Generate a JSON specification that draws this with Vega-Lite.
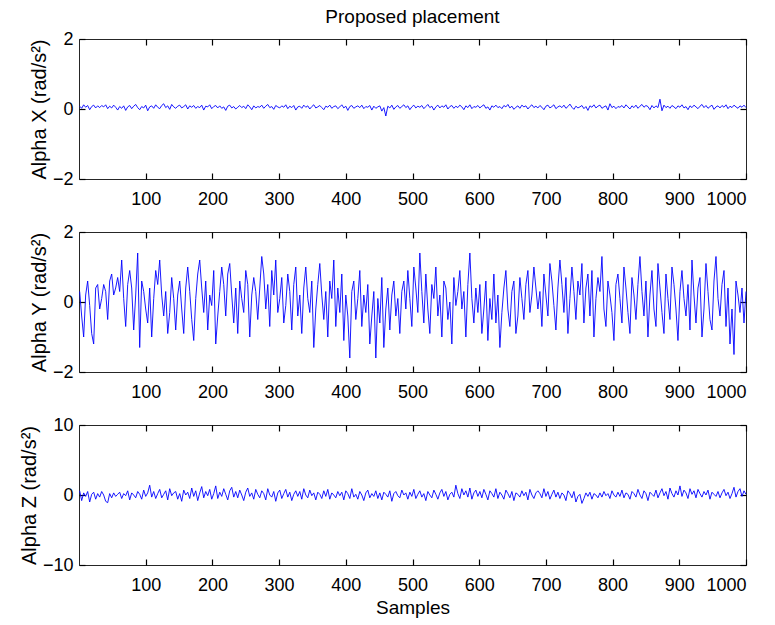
{
"$schema": "https://vega.github.io/schema/vega-lite/v6.json",
"padding": {"left": 18, "top": 7, "right": 5, "bottom": 5},
"spacing": 53,
"bounds": "flush",
"config": {
  "font": "Liberation Sans",
  "view": {"stroke": "#262626", "strokeWidth": 1},
  "axis": {"grid": false, "domain": false, "ticks": true, "offset": -6, "tickColor": "#000000", "tickOpacity": 1, "labelColor": "#000", "titleColor": "#000", "labelFontSize": 18, "titleFontSize": 19, "titleFontWeight": "normal", "tickSize": 6, "tickWidth": 1.2, "labelPadding": 11, "titlePadding": 4, "format": "d"},
  "axisY": {"labelPadding": 6, "titlePadding": 3, "titleFontSize": 20},
  "title": {"fontSize": 19, "fontWeight": "normal", "color": "#000", "offset": 3}
},
"datasets": {"d": [
{"x":1,"a":0.08,"b":0.3,"c":0.6},
{"x":4,"a":0.02,"b":-0.4,"c":-0.8},
{"x":7,"a":0.12,"b":-1.0,"c":0.3},
{"x":10,"a":0.05,"b":0.2,"c":-0.2},
{"x":13,"a":0.10,"b":0.6,"c":0.5},
{"x":16,"a":-0.02,"b":-0.1,"c":-1.0},
{"x":19,"a":0.07,"b":-0.9,"c":0.1},
{"x":22,"a":0.11,"b":-1.2,"c":0.4},
{"x":25,"a":0.03,"b":0.4,"c":-0.6},
{"x":28,"a":0.09,"b":0.5,"c":0.2},
{"x":31,"a":0.04,"b":-0.2,"c":-0.3},
{"x":34,"a":0.10,"b":0.1,"c":0.5},
{"x":37,"a":0.06,"b":0.5,"c":0.0},
{"x":40,"a":0.12,"b":0.3,"c":-0.9},
{"x":43,"a":0.01,"b":-0.5,"c":-1.1},
{"x":46,"a":0.08,"b":0.6,"c":0.2},
{"x":49,"a":0.03,"b":0.8,"c":-0.4},
{"x":52,"a":0.11,"b":0.2,"c":0.3},
{"x":55,"a":0.05,"b":0.4,"c":-0.2},
{"x":58,"a":-0.03,"b":0.7,"c":0.1},
{"x":61,"a":0.07,"b":0.3,"c":0.4},
{"x":64,"a":0.02,"b":1.2,"c":-0.5},
{"x":67,"a":0.09,"b":0.1,"c":0.2},
{"x":70,"a":-0.04,"b":-0.7,"c":-0.1},
{"x":73,"a":0.06,"b":0.5,"c":0.6},
{"x":76,"a":0.10,"b":0.9,"c":-0.7},
{"x":79,"a":0.01,"b":0.4,"c":0.3},
{"x":82,"a":0.08,"b":-0.8,"c":0.0},
{"x":85,"a":0.13,"b":0.2,"c":-0.4},
{"x":88,"a":0.04,"b":1.4,"c":0.5},
{"x":91,"a":-0.02,"b":-1.3,"c":0.1},
{"x":94,"a":0.07,"b":0.6,"c":-0.6},
{"x":97,"a":0.03,"b":0.3,"c":0.7},
{"x":100,"a":0.11,"b":-0.2,"c":-0.2},
{"x":103,"a":-0.05,"b":-0.6,"c":0.3},
{"x":106,"a":0.06,"b":0.4,"c":1.4},
{"x":109,"a":0.09,"b":-1.0,"c":-0.3},
{"x":112,"a":0.02,"b":0.1,"c":0.5},
{"x":115,"a":0.12,"b":0.9,"c":-0.5},
{"x":118,"a":0.05,"b":0.5,"c":0.2},
{"x":121,"a":0.01,"b":1.2,"c":0.8},
{"x":124,"a":0.10,"b":0.2,"c":-0.4},
{"x":127,"a":0.15,"b":-0.4,"c":0.1},
{"x":130,"a":0.04,"b":0.3,"c":0.6},
{"x":133,"a":0.09,"b":-0.9,"c":-0.7},
{"x":136,"a":-0.01,"b":-0.3,"c":0.9},
{"x":139,"a":0.13,"b":0.7,"c":-0.1},
{"x":142,"a":0.06,"b":0.1,"c":0.3},
{"x":145,"a":0.02,"b":-0.8,"c":0.5},
{"x":148,"a":0.08,"b":0.2,"c":-0.6},
{"x":151,"a":0.11,"b":0.6,"c":0.2},
{"x":154,"a":0.03,"b":-0.2,"c":-0.9},
{"x":157,"a":0.07,"b":-0.9,"c":0.7},
{"x":160,"a":0.12,"b":0.4,"c":0.0},
{"x":163,"a":0.00,"b":1.0,"c":0.4},
{"x":166,"a":0.09,"b":0.3,"c":-0.5},
{"x":169,"a":0.05,"b":-0.5,"c":1.0},
{"x":172,"a":0.10,"b":-1.1,"c":-0.2},
{"x":175,"a":0.02,"b":0.1,"c":0.6},
{"x":178,"a":0.07,"b":0.8,"c":-0.8},
{"x":181,"a":0.04,"b":1.2,"c":0.3},
{"x":184,"a":0.11,"b":0.4,"c":1.2},
{"x":187,"a":-0.03,"b":-0.3,"c":-0.4},
{"x":190,"a":0.08,"b":0.6,"c":0.5},
{"x":193,"a":0.06,"b":-0.8,"c":-0.1},
{"x":196,"a":0.12,"b":0.2,"c":0.8},
{"x":199,"a":0.01,"b":-0.1,"c":-0.6},
{"x":202,"a":0.07,"b":0.9,"c":0.2},
{"x":205,"a":0.10,"b":-1.2,"c":1.3},
{"x":208,"a":0.03,"b":-0.4,"c":-0.5},
{"x":211,"a":0.09,"b":0.3,"c":0.4},
{"x":214,"a":0.02,"b":1.0,"c":-0.2},
{"x":217,"a":0.06,"b":0.5,"c":0.9},
{"x":220,"a":-0.04,"b":-0.4,"c":0.1},
{"x":223,"a":0.08,"b":0.8,"c":-0.7},
{"x":226,"a":0.11,"b":1.1,"c":0.6},
{"x":229,"a":0.03,"b":0.2,"c":1.1},
{"x":232,"a":0.07,"b":-0.6,"c":-0.3},
{"x":235,"a":0.00,"b":0.4,"c":0.5},
{"x":238,"a":0.05,"b":-0.9,"c":-0.4},
{"x":241,"a":0.10,"b":0.6,"c":0.7},
{"x":244,"a":0.04,"b":0.1,"c":0.0},
{"x":247,"a":0.08,"b":-0.3,"c":-0.8},
{"x":250,"a":0.01,"b":0.9,"c":0.4},
{"x":253,"a":0.12,"b":0.5,"c":1.0},
{"x":256,"a":0.06,"b":-1.0,"c":-0.2},
{"x":259,"a":-0.02,"b":0.2,"c":0.3},
{"x":262,"a":0.09,"b":0.7,"c":-0.6},
{"x":265,"a":0.03,"b":0.3,"c":0.8},
{"x":268,"a":0.07,"b":-0.5,"c":0.1},
{"x":271,"a":0.05,"b":0.4,"c":-0.4},
{"x":274,"a":0.11,"b":1.3,"c":0.6},
{"x":277,"a":0.02,"b":0.8,"c":0.2},
{"x":280,"a":0.08,"b":-0.2,"c":-0.7},
{"x":283,"a":0.13,"b":0.5,"c":0.9},
{"x":286,"a":0.04,"b":-0.7,"c":0.0},
{"x":289,"a":0.07,"b":0.9,"c":-0.3},
{"x":292,"a":-0.01,"b":0.2,"c":0.5},
{"x":295,"a":0.10,"b":1.2,"c":-0.9},
{"x":298,"a":0.06,"b":-0.3,"c":0.3},
{"x":301,"a":0.03,"b":0.1,"c":0.7},
{"x":304,"a":0.09,"b":0.7,"c":-0.5},
{"x":307,"a":0.05,"b":-0.6,"c":0.2},
{"x":310,"a":0.12,"b":-0.1,"c":0.8},
{"x":313,"a":0.01,"b":0.8,"c":-0.3},
{"x":316,"a":0.08,"b":0.3,"c":0.4},
{"x":319,"a":0.04,"b":-0.8,"c":-0.8},
{"x":322,"a":0.10,"b":0.5,"c":0.1},
{"x":325,"a":-0.03,"b":1.0,"c":0.6},
{"x":328,"a":0.06,"b":-0.4,"c":-0.2},
{"x":331,"a":0.08,"b":0.2,"c":0.5},
{"x":334,"a":0.02,"b":-0.9,"c":-0.6},
{"x":337,"a":0.11,"b":0.4,"c":0.9},
{"x":340,"a":0.05,"b":1.0,"c":0.0},
{"x":343,"a":0.09,"b":0.1,"c":-0.4},
{"x":346,"a":0.00,"b":-0.3,"c":0.7},
{"x":349,"a":0.07,"b":0.6,"c":-0.1},
{"x":352,"a":0.12,"b":-1.3,"c":0.3},
{"x":355,"a":0.03,"b":-0.2,"c":-0.7},
{"x":358,"a":0.06,"b":0.5,"c":0.4},
{"x":361,"a":0.10,"b":1.1,"c":0.1},
{"x":364,"a":0.04,"b":0.2,"c":-0.5},
{"x":367,"a":-0.02,"b":-0.5,"c":0.6},
{"x":370,"a":0.08,"b":0.3,"c":-0.2},
{"x":373,"a":0.05,"b":-1.0,"c":0.8},
{"x":376,"a":0.11,"b":0.6,"c":-0.6},
{"x":379,"a":0.02,"b":0.1,"c":0.3},
{"x":382,"a":0.07,"b":1.2,"c":0.0},
{"x":385,"a":0.09,"b":-0.7,"c":-0.4},
{"x":388,"a":0.01,"b":0.4,"c":0.5},
{"x":391,"a":0.06,"b":-0.3,"c":-0.1},
{"x":394,"a":0.12,"b":0.8,"c":0.4},
{"x":397,"a":0.03,"b":-1.1,"c":-0.7},
{"x":400,"a":0.08,"b":0.2,"c":0.6},
{"x":403,"a":-0.04,"b":-0.4,"c":0.2},
{"x":406,"a":0.07,"b":-1.6,"c":-0.5},
{"x":409,"a":0.10,"b":0.3,"c":0.9},
{"x":412,"a":0.02,"b":0.6,"c":-0.3},
{"x":415,"a":0.06,"b":-0.5,"c":0.1},
{"x":418,"a":0.09,"b":0.1,"c":-0.6},
{"x":421,"a":0.04,"b":0.9,"c":0.5},
{"x":424,"a":0.11,"b":-0.7,"c":0.0},
{"x":427,"a":0.01,"b":0.2,"c":-0.8},
{"x":430,"a":0.07,"b":-0.3,"c":0.3},
{"x":433,"a":0.05,"b":0.5,"c":0.7},
{"x":436,"a":0.10,"b":-1.2,"c":-0.4},
{"x":439,"a":-0.03,"b":-0.4,"c":0.2},
{"x":442,"a":0.08,"b":0.3,"c":-0.2},
{"x":445,"a":0.02,"b":-1.6,"c":0.6},
{"x":448,"a":0.06,"b":0.1,"c":-0.5},
{"x":451,"a":0.09,"b":-0.6,"c":0.3},
{"x":454,"a":-0.06,"b":0.7,"c":-0.7},
{"x":457,"a":0.04,"b":-1.3,"c":0.4},
{"x":460,"a":-0.20,"b":-0.2,"c":0.1},
{"x":463,"a":0.08,"b":0.4,"c":-0.3},
{"x":466,"a":0.03,"b":-0.8,"c":0.6},
{"x":469,"a":0.11,"b":0.2,"c":-0.9},
{"x":472,"a":-0.01,"b":0.6,"c":0.2},
{"x":475,"a":0.06,"b":-0.4,"c":0.5},
{"x":478,"a":0.10,"b":0.1,"c":-0.1},
{"x":481,"a":0.02,"b":-0.9,"c":-0.4},
{"x":484,"a":0.07,"b":0.3,"c":0.7},
{"x":487,"a":0.12,"b":0.6,"c":0.0},
{"x":490,"a":0.04,"b":-0.2,"c":0.3},
{"x":493,"a":0.09,"b":0.9,"c":-0.6},
{"x":496,"a":-0.02,"b":0.1,"c":0.4},
{"x":499,"a":0.06,"b":-0.7,"c":-0.2},
{"x":502,"a":0.11,"b":1.0,"c":0.8},
{"x":505,"a":0.03,"b":0.4,"c":-0.5},
{"x":508,"a":0.08,"b":-0.3,"c":0.1},
{"x":511,"a":0.05,"b":1.4,"c":0.6},
{"x":514,"a":0.10,"b":0.3,"c":-0.3},
{"x":517,"a":0.01,"b":-0.6,"c":0.2},
{"x":520,"a":0.07,"b":0.8,"c":-0.8},
{"x":523,"a":0.13,"b":-0.2,"c":0.5},
{"x":526,"a":0.04,"b":-0.9,"c":0.0},
{"x":529,"a":0.08,"b":0.5,"c":-0.4},
{"x":532,"a":-0.03,"b":0.1,"c":0.7},
{"x":535,"a":0.06,"b":1.0,"c":0.1},
{"x":538,"a":0.11,"b":-0.4,"c":-0.6},
{"x":541,"a":0.03,"b":0.2,"c":0.3},
{"x":544,"a":0.09,"b":-1.0,"c":0.8},
{"x":547,"a":0.05,"b":0.6,"c":-0.2},
{"x":550,"a":0.12,"b":0.4,"c":0.5},
{"x":553,"a":0.00,"b":-0.5,"c":-0.7},
{"x":556,"a":0.07,"b":0.0,"c":0.1},
{"x":559,"a":0.10,"b":-1.2,"c":0.4},
{"x":562,"a":0.02,"b":0.7,"c":-0.3},
{"x":565,"a":0.08,"b":-0.1,"c":1.4},
{"x":568,"a":0.04,"b":0.3,"c":0.2},
{"x":571,"a":0.11,"b":0.9,"c":-0.5},
{"x":574,"a":0.06,"b":-0.2,"c":0.9},
{"x":577,"a":-0.02,"b":0.3,"c":0.0},
{"x":580,"a":0.09,"b":-1.0,"c":0.6},
{"x":583,"a":0.04,"b":0.5,"c":-0.3},
{"x":586,"a":0.12,"b":1.4,"c":1.0},
{"x":589,"a":0.01,"b":0.1,"c":-0.6},
{"x":592,"a":0.07,"b":-0.6,"c":0.3},
{"x":595,"a":0.05,"b":0.4,"c":0.7},
{"x":598,"a":0.10,"b":-0.3,"c":-0.2},
{"x":601,"a":0.03,"b":0.5,"c":0.5},
{"x":604,"a":0.08,"b":-0.9,"c":-0.4},
{"x":607,"a":0.12,"b":-0.2,"c":0.8},
{"x":610,"a":0.02,"b":0.6,"c":0.1},
{"x":613,"a":0.06,"b":-1.1,"c":-0.7},
{"x":616,"a":-0.03,"b":0.1,"c":0.6},
{"x":619,"a":0.09,"b":-0.5,"c":0.2},
{"x":622,"a":0.05,"b":0.8,"c":-0.3},
{"x":625,"a":0.11,"b":-0.6,"c":0.9},
{"x":628,"a":0.04,"b":0.2,"c":-0.5},
{"x":631,"a":0.07,"b":-1.3,"c":0.4},
{"x":634,"a":0.01,"b":-0.3,"c":0.0},
{"x":637,"a":0.10,"b":0.4,"c":-0.6},
{"x":640,"a":0.06,"b":0.9,"c":0.7},
{"x":643,"a":0.13,"b":-0.2,"c":0.2},
{"x":646,"a":0.03,"b":-0.7,"c":-0.4},
{"x":649,"a":0.08,"b":0.3,"c":0.5},
{"x":652,"a":-0.01,"b":0.6,"c":-0.8},
{"x":655,"a":0.05,"b":-0.9,"c":0.3},
{"x":658,"a":0.09,"b":-0.4,"c":0.1},
{"x":661,"a":0.02,"b":0.7,"c":-0.3},
{"x":664,"a":0.11,"b":0.1,"c":0.6},
{"x":667,"a":0.06,"b":-0.5,"c":-0.1},
{"x":670,"a":0.09,"b":0.5,"c":0.4},
{"x":673,"a":0.00,"b":0.9,"c":-0.7},
{"x":676,"a":0.07,"b":-0.3,"c":0.8},
{"x":679,"a":0.12,"b":0.2,"c":0.0},
{"x":682,"a":0.04,"b":1.0,"c":-0.5},
{"x":685,"a":0.08,"b":0.4,"c":0.3},
{"x":688,"a":0.03,"b":-0.2,"c":0.6},
{"x":691,"a":0.10,"b":0.3,"c":0.2},
{"x":694,"a":0.05,"b":-0.7,"c":-0.4},
{"x":697,"a":-0.02,"b":0.8,"c":0.9},
{"x":700,"a":0.08,"b":0.2,"c":-0.2},
{"x":703,"a":0.11,"b":-0.4,"c":0.5},
{"x":706,"a":0.03,"b":1.1,"c":-0.6},
{"x":709,"a":0.07,"b":0.6,"c":0.1},
{"x":712,"a":0.12,"b":-0.1,"c":0.7},
{"x":715,"a":0.01,"b":-0.8,"c":-0.3},
{"x":718,"a":0.06,"b":0.4,"c":0.4},
{"x":721,"a":0.09,"b":1.2,"c":-0.5},
{"x":724,"a":0.04,"b":0.5,"c":0.3},
{"x":727,"a":0.11,"b":-0.3,"c":0.0},
{"x":730,"a":0.02,"b":0.7,"c":-0.8},
{"x":733,"a":0.07,"b":-0.9,"c":0.6},
{"x":736,"a":0.14,"b":0.1,"c":0.2},
{"x":739,"a":0.05,"b":1.0,"c":-0.4},
{"x":742,"a":-0.01,"b":0.3,"c":0.5},
{"x":745,"a":0.08,"b":-0.5,"c":-1.0},
{"x":748,"a":0.03,"b":0.6,"c":-0.2},
{"x":751,"a":0.06,"b":0.2,"c":0.1},
{"x":754,"a":0.10,"b":1.1,"c":-1.2},
{"x":757,"a":0.01,"b":-0.6,"c":-0.5},
{"x":760,"a":0.07,"b":0.4,"c":0.3},
{"x":763,"a":-0.04,"b":0.8,"c":-0.2},
{"x":766,"a":0.09,"b":-0.4,"c":0.4},
{"x":769,"a":0.05,"b":0.9,"c":-0.6},
{"x":772,"a":0.12,"b":-1.0,"c":0.2},
{"x":775,"a":0.03,"b":0.1,"c":0.0},
{"x":778,"a":0.08,"b":0.7,"c":-0.4},
{"x":781,"a":0.11,"b":0.3,"c":0.3},
{"x":784,"a":0.02,"b":1.3,"c":-0.3},
{"x":787,"a":0.06,"b":-0.2,"c":0.5},
{"x":790,"a":0.09,"b":-0.7,"c":-0.1},
{"x":793,"a":-0.03,"b":0.6,"c":0.2},
{"x":796,"a":0.15,"b":0.2,"c":-0.5},
{"x":799,"a":0.04,"b":-0.3,"c":0.6},
{"x":802,"a":0.08,"b":-1.1,"c":0.0},
{"x":805,"a":0.01,"b":0.5,"c":-0.3},
{"x":808,"a":0.07,"b":0.8,"c":0.4},
{"x":811,"a":0.05,"b":0.1,"c":-0.2},
{"x":814,"a":0.10,"b":-0.6,"c":0.7},
{"x":817,"a":0.03,"b":1.0,"c":-0.4},
{"x":820,"a":0.12,"b":0.4,"c":0.3},
{"x":823,"a":0.06,"b":-0.3,"c":0.1},
{"x":826,"a":0.00,"b":-0.9,"c":-0.6},
{"x":829,"a":0.09,"b":0.7,"c":0.5},
{"x":832,"a":0.04,"b":0.2,"c":0.2},
{"x":835,"a":0.11,"b":-0.5,"c":-0.3},
{"x":838,"a":0.02,"b":0.5,"c":0.8},
{"x":841,"a":0.08,"b":1.3,"c":0.0},
{"x":844,"a":0.13,"b":0.3,"c":-0.5},
{"x":847,"a":0.05,"b":-0.4,"c":0.6},
{"x":850,"a":0.10,"b":0.6,"c":0.2},
{"x":853,"a":0.07,"b":-1.0,"c":-0.8},
{"x":856,"a":-0.02,"b":0.2,"c":0.4},
{"x":859,"a":0.10,"b":0.9,"c":0.1},
{"x":862,"a":0.03,"b":-0.2,"c":-0.2},
{"x":865,"a":0.09,"b":-0.7,"c":0.7},
{"x":868,"a":0.04,"b":1.1,"c":-0.4},
{"x":871,"a":0.28,"b":0.4,"c":0.3},
{"x":874,"a":-0.05,"b":-0.3,"c":0.9},
{"x":877,"a":0.11,"b":-0.9,"c":-0.1},
{"x":880,"a":0.04,"b":0.8,"c":0.5},
{"x":883,"a":0.08,"b":0.1,"c":-0.6},
{"x":886,"a":0.02,"b":-0.5,"c":1.0},
{"x":889,"a":0.10,"b":1.0,"c":0.2},
{"x":892,"a":0.06,"b":0.5,"c":-0.3},
{"x":895,"a":0.01,"b":-0.2,"c":0.6},
{"x":898,"a":0.09,"b":-1.1,"c":0.0},
{"x":901,"a":0.05,"b":0.3,"c":1.3},
{"x":904,"a":0.12,"b":0.9,"c":-0.2},
{"x":907,"a":0.03,"b":0.1,"c":0.7},
{"x":910,"a":0.07,"b":-0.4,"c":0.3},
{"x":913,"a":-0.02,"b":0.5,"c":-0.5},
{"x":916,"a":0.09,"b":-0.8,"c":0.9},
{"x":919,"a":0.04,"b":1.2,"c":0.1},
{"x":922,"a":0.11,"b":0.2,"c":0.6},
{"x":925,"a":0.06,"b":-0.6,"c":-0.4},
{"x":928,"a":0.01,"b":0.4,"c":0.8},
{"x":931,"a":0.08,"b":0.7,"c":0.2},
{"x":934,"a":0.13,"b":-1.0,"c":-0.3},
{"x":937,"a":0.04,"b":-0.2,"c":0.5},
{"x":940,"a":0.10,"b":1.1,"c":0.0},
{"x":943,"a":0.02,"b":0.3,"c":0.7},
{"x":946,"a":0.07,"b":-0.5,"c":-0.6},
{"x":949,"a":0.11,"b":-0.8,"c":0.4},
{"x":952,"a":-0.01,"b":0.6,"c":0.1},
{"x":955,"a":0.06,"b":1.3,"c":-0.2},
{"x":958,"a":0.09,"b":0.1,"c":0.5},
{"x":961,"a":0.03,"b":-0.4,"c":-0.4},
{"x":964,"a":0.10,"b":0.5,"c":0.3},
{"x":967,"a":0.05,"b":0.9,"c":0.8},
{"x":970,"a":0.12,"b":-0.7,"c":-0.1},
{"x":973,"a":0.01,"b":0.4,"c":0.4},
{"x":976,"a":0.08,"b":-1.2,"c":-0.5},
{"x":979,"a":0.04,"b":-0.2,"c":0.2},
{"x":982,"a":0.11,"b":-1.5,"c":1.1},
{"x":985,"a":0.06,"b":0.6,"c":-0.3},
{"x":988,"a":0.02,"b":0.2,"c":0.5},
{"x":991,"a":0.09,"b":-0.3,"c":0.9},
{"x":994,"a":0.05,"b":0.4,"c":-0.2},
{"x":997,"a":0.11,"b":-0.6,"c":0.6},
{"x":1000,"a":0.04,"b":0.3,"c":0.1}
]},
"vconcat": [
{
  "width": 667, "height": 140,
  "title": {"text": "Proposed placement"},
  "data": {"name": "d"},
  "layer": [
    {"mark": {"type": "line", "color": "#0000ff", "strokeWidth": 0.9},
     "encoding": {
       "x": {"field": "x", "type": "quantitative", "scale": {"domain": [0, 1000], "nice": false, "zero": false}, "axis": {"values": [100,200,300,400,500,600,700,800,900,1000], "title": null}},
       "y": {"field": "a", "type": "quantitative", "scale": {"domain": [-2, 2], "nice": false}, "axis": {"values": [-2,0,2], "title": "Alpha X (rad/s²)"}}
     }},
    {"mark": {"type": "line", "opacity": 0},
     "encoding": {
       "x": {"field": "x", "type": "quantitative", "axis": {"orient": "top", "values": [100,200,300,400,500,600,700,800,900,1000], "labels": false, "title": null}},
       "y": {"field": "a", "type": "quantitative", "axis": {"orient": "right", "values": [-2,0,2], "labels": false, "title": null}}
     }}
  ],
  "resolve": {"axis": {"x": "independent", "y": "independent"}}
},
{
  "width": 667, "height": 140,
  "data": {"name": "d"},
  "layer": [
    {"mark": {"type": "line", "color": "#0000ff", "strokeWidth": 0.9},
     "encoding": {
       "x": {"field": "x", "type": "quantitative", "scale": {"domain": [0, 1000], "nice": false, "zero": false}, "axis": {"values": [100,200,300,400,500,600,700,800,900,1000], "title": null}},
       "y": {"field": "b", "type": "quantitative", "scale": {"domain": [-2, 2], "nice": false}, "axis": {"values": [-2,0,2], "title": "Alpha Y  (rad/s²)"}}
     }},
    {"mark": {"type": "line", "opacity": 0},
     "encoding": {
       "x": {"field": "x", "type": "quantitative", "axis": {"orient": "top", "values": [100,200,300,400,500,600,700,800,900,1000], "labels": false, "title": null}},
       "y": {"field": "b", "type": "quantitative", "axis": {"orient": "right", "values": [-2,0,2], "labels": false, "title": null}}
     }}
  ],
  "resolve": {"axis": {"x": "independent", "y": "independent"}}
},
{
  "width": 667, "height": 140,
  "data": {"name": "d"},
  "layer": [
    {"mark": {"type": "line", "color": "#0000ff", "strokeWidth": 0.9},
     "encoding": {
       "x": {"field": "x", "type": "quantitative", "scale": {"domain": [0, 1000], "nice": false, "zero": false}, "axis": {"values": [100,200,300,400,500,600,700,800,900,1000], "title": "Samples"}},
       "y": {"field": "c", "type": "quantitative", "scale": {"domain": [-10, 10], "nice": false}, "axis": {"values": [-10,0,10], "title": "Alpha Z (rad/s²)"}}
     }},
    {"mark": {"type": "line", "opacity": 0},
     "encoding": {
       "x": {"field": "x", "type": "quantitative", "axis": {"orient": "top", "values": [100,200,300,400,500,600,700,800,900,1000], "labels": false, "title": null}},
       "y": {"field": "c", "type": "quantitative", "axis": {"orient": "right", "values": [-10,0,10], "labels": false, "title": null}}
     }}
  ],
  "resolve": {"axis": {"x": "independent", "y": "independent"}}
}
]
}
